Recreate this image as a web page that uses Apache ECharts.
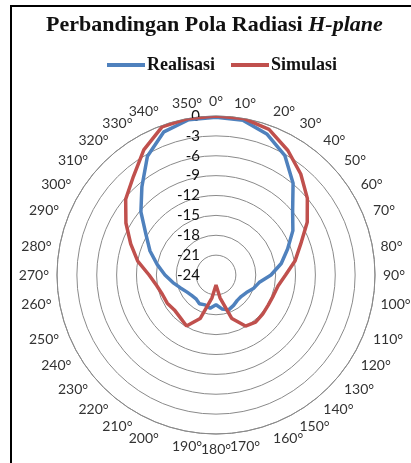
<!DOCTYPE html>
<html>
<head>
<meta charset="utf-8">
<script src="https://cdn.jsdelivr.net/npm/echarts@6/dist/echarts.min.js"></script>
<style>
  html, body { margin: 0; padding: 0; background: #fff; }
  #chart { width: 411px; height: 463px; }
</style>
</head>
<body>
<div id="chart"></div>
<script>
// angles in degrees, values in dB
const angles = [0, 10, 20, 30, 40, 50, 60, 70, 80, 90, 100, 110, 120, 130, 140, 150, 160, 170,
                180, 190, 200, 210, 220, 230, 240, 250, 260, 270, 280, 290, 300, 310, 320, 330, 340, 350];
const realisasi = [-0.2, -0.3, -1.4, -3.2, -5.9, -8.9, -10.6, -12.5, -14.0, -15.7, -17.4, -18.0,
                   -18.7, -19.0, -19.0, -18.7, -18.4, -18.8, -19.5, -18.9, -19.2, -19.0, -19.3, -19.2,
                   -18.9, -18.3, -17.4, -16.3, -15.0, -13.4, -11.8, -9.2, -6.6, -3.3, -1.0, -0.2];
const simulasi = [0, 0, -0.6, -2.3, -4.1, -6.0, -8.1, -10.4, -11.9, -13.5, -14.5, -14.8,
                  -14.9, -14.8, -14.7, -15.1, -17.0, -20.5, -22.5, -20.5, -17.0, -15.1, -15.6, -15.8,
                  -15.5, -15.4, -14.9, -13.9, -12.0, -10.3, -8.3, -6.2, -4.6, -2.2, -0.2, 0];

// closed loop: repeat first point at 360
function toPolar(vals) {
    const pts = angles.map((a, i) => [vals[i], a]);
    pts.push([vals[0], 360]);
    return pts;
}

var myChart = echarts.init(document.getElementById('chart'));

myChart.setOption({
    animation: false,
    title: {
        text: '{n|Perbandingan Pola Radiasi }{i|H-plane}',
        left: 41,
        top: 9,
        textStyle: {
            rich: {
                n: { fontFamily: 'Liberation Serif', fontWeight: 'bold', fontSize: 22, color: '#111' },
                i: { fontFamily: 'Liberation Serif', fontWeight: 'bold', fontStyle: 'italic', fontSize: 22, color: '#111' }
            }
        }
    },
    legend: {
        top: 51,
        left: 102,
        icon: 'rect',
        itemWidth: 38,
        itemHeight: 4,
        itemGap: 16,
        textStyle: {
            fontFamily: 'Liberation Serif',
            fontWeight: 'bold',
            fontSize: 18,
            color: '#111',
            padding: [0, 0, 0, -3]
        },
        data: ['Realisasi', 'Simulasi']
    },
    graphic: [
        {
            type: 'rect',
            shape: { x: 11, y: 6, width: 430, height: 480 },
            style: { fill: 'none', stroke: '#000', lineWidth: 2 }
        }
    ],
    polar: {
        center: [216, 275],
        radius: 159
    },
    angleAxis: {
        type: 'value',
        min: 0,
        max: 360,
        interval: 10,
        startAngle: 90,
        clockwise: true,
        axisLine: { show: true, lineStyle: { color: '#8a8a8a', width: 1 } },
        axisTick: { show: false },
        splitLine: { show: false },
        axisLabel: {
            margin: 8,
            fontFamily: 'Lato',
            fontSize: 14,
            color: '#333',
            formatter: v => v + '°'
        }
    },
    radiusAxis: {
        type: 'value',
        min: -24,
        max: 0,
        interval: 3,
        axisLine: { show: false },
        axisTick: { show: false },
        splitLine: { show: true, lineStyle: { color: '#8a8a8a', width: 1 } },
        axisLabel: {
            margin: 16,
            fontFamily: 'Lato',
            fontSize: 15,
            color: '#111'
        }
    },
    series: [
        {
            name: 'Realisasi',
            type: 'line',
            coordinateSystem: 'polar',
            symbol: 'none',
            smooth: false,
            lineStyle: { color: '#4F81BD', width: 3.5 },
            itemStyle: { color: '#4F81BD' },
            data: toPolar(realisasi)
        },
        {
            name: 'Simulasi',
            type: 'line',
            coordinateSystem: 'polar',
            symbol: 'none',
            smooth: false,
            lineStyle: { color: '#C0504D', width: 3.5 },
            itemStyle: { color: '#C0504D' },
            data: toPolar(simulasi)
        }
    ]
});
</script>
</body>
</html>
